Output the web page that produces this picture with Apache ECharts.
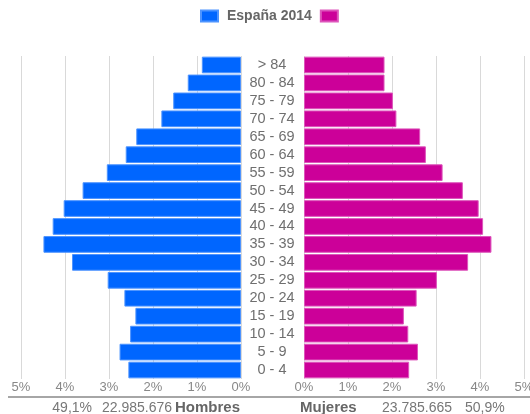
<!DOCTYPE html>
<html>
<head>
<meta charset="utf-8">
<script src="https://cdn.jsdelivr.net/npm/echarts@6/dist/echarts.min.js"></script>
<style>
html,body{margin:0;padding:0;background:#fff;}
#c{width:530px;height:414px;}
</style>
</head>
<body>
<div id="c"></div>
<script>
// Age groups, bottom to top
const categories = ['0 - 4','5 - 9','10 - 14','15 - 19','20 - 24','25 - 29','30 - 34','35 - 39','40 - 44','45 - 49','50 - 54','55 - 59','60 - 64','65 - 69','70 - 74','75 - 79','80 - 84','> 84'];
// % of total population
const hombres = [2.56,2.76,2.52,2.40,2.65,3.03,3.84,4.49,4.28,4.03,3.60,3.05,2.62,2.38,1.81,1.54,1.21,0.89];
const mujeres = [2.39,2.59,2.37,2.27,2.56,3.02,3.73,4.26,4.07,3.97,3.61,3.15,2.77,2.64,2.10,2.02,1.83,1.83];
const legendNames = ['España 2014', ' '];
const totalsLeft = ['49,1%', '22.985.676', 'Hombres'];
const totalsRight = ['Mujeres', '23.785.665', '50,9%'];
const axisMax = 5;

const FONT = '"Liberation Sans", Arial, sans-serif';
const chart = echarts.init(document.getElementById('c'));
const splitLine = {show:true, lineStyle:{color:'#d9d9d9', width:1}};
const axisLabel = {color:'#888', fontSize:13, fontFamily:FONT, margin:2, formatter:'{value}%'};

chart.setOption({
  animation:false,
  legend:{
    left:200, top:9, padding:0, itemWidth:17, itemHeight:11, itemGap:8,
    icon:'rect',
    textStyle:{color:'#666', fontSize:14, fontWeight:'bold', fontFamily:FONT, padding:[0,0,0,4]},
    data:legendNames
  },
  grid:[
    {left:21, width:220, top:56, height:323, outerBoundsMode:'none', containLabel:false},
    {left:304, width:220, top:56, height:323, outerBoundsMode:'none', containLabel:false}
  ],
  xAxis:[
    {gridIndex:0, type:'value', min:0, max:axisMax, interval:1, inverse:true,
     axisLine:{show:false}, axisTick:{show:false}, splitLine:splitLine, axisLabel:axisLabel},
    {gridIndex:1, type:'value', min:0, max:axisMax, interval:1,
     axisLine:{show:false}, axisTick:{show:false}, splitLine:splitLine, axisLabel:axisLabel}
  ],
  yAxis:[
    {gridIndex:0, type:'category', data:categories, axisLine:{show:false}, axisTick:{show:false}, axisLabel:{show:false}},
    {gridIndex:1, type:'category', data:categories, position:'left',
     axisLine:{show:false}, axisTick:{show:false},
     axisLabel:{show:true, interval:0, align:'center', margin:32, color:'#6f6f6f', fontSize:14.5, fontFamily:FONT}}
  ],
  series:[
    {name:legendNames[0], type:'bar', xAxisIndex:0, yAxisIndex:0, data:hombres, barCategoryGap:'7%',
     itemStyle:{color:'#0066ff', borderColor:'#4d94ff', borderWidth:1}},
    {name:legendNames[1], type:'bar', xAxisIndex:1, yAxisIndex:1, data:mujeres, barCategoryGap:'7%',
     itemStyle:{color:'#cc0099', borderColor:'#dd55bb', borderWidth:1}}
  ],
  graphic:[
    {type:'line', shape:{x1:8, y1:397, x2:530, y2:397}, style:{stroke:'#888', lineWidth:1.5}},
    {type:'text', x:92, y:408, style:{text:totalsLeft[0], fill:'#777', font:'14px '+FONT, textAlign:'right', textVerticalAlign:'middle'}},
    {type:'text', x:172, y:408, style:{text:totalsLeft[1], fill:'#777', font:'14px '+FONT, textAlign:'right', textVerticalAlign:'middle'}},
    {type:'text', x:240, y:408, style:{text:totalsLeft[2], fill:'#666', font:'bold 15px '+FONT, textAlign:'right', textVerticalAlign:'middle'}},
    {type:'text', x:300, y:408, style:{text:totalsRight[0], fill:'#666', font:'bold 15px '+FONT, textAlign:'left', textVerticalAlign:'middle'}},
    {type:'text', x:382, y:408, style:{text:totalsRight[1], fill:'#777', font:'14px '+FONT, textAlign:'left', textVerticalAlign:'middle'}},
    {type:'text', x:465, y:408, style:{text:totalsRight[2], fill:'#777', font:'14px '+FONT, textAlign:'left', textVerticalAlign:'middle'}}
  ]
});
</script>
</body>
</html>
